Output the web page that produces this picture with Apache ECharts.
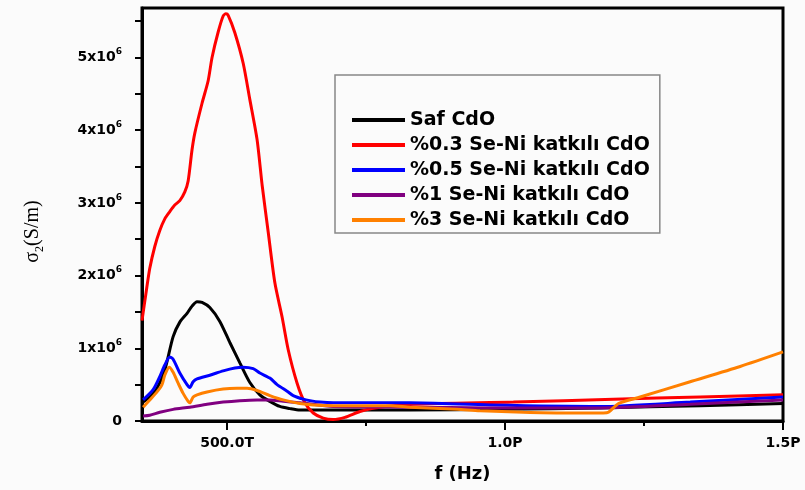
<!DOCTYPE html>
<html>
<head>
<meta charset="utf-8">
<script src="https://cdn.jsdelivr.net/npm/echarts@6/dist/echarts.min.js"></script>
<style>
  html, body { margin: 0; padding: 0; background: #fbfbfb; }
  #chart { width: 805px; height: 490px; }
</style>
</head>
<body>
<div id="chart"></div>
<script>
// Frequency in THz, conductivity sigma_2 in units of 10^6 S/m
const seriesNames = ['Saf CdO', '%0.3 Se-Ni katkılı CdO', '%0.5 Se-Ni katkılı CdO', '%1 Se-Ni katkılı CdO', '%3 Se-Ni katkılı CdO'];
const seriesColors = ['#000000', '#ff0000', '#0000ff', '#800080', '#ff8000'];

const freqSaf = [349,361,374,388,403,415,428,437,446,455,469,487,505,523,541,559,577,595,613,631,685,829,991,1171,1351,1500];
const sigmaSaf = [0.26,0.33,0.45,0.70,1.16,1.36,1.48,1.58,1.64,1.63,1.56,1.37,1.08,0.80,0.53,0.36,0.27,0.20,0.17,0.15,0.15,0.15,0.16,0.18,0.21,0.24];

const freq03 = [347,354,361,370,379,388,397,406,415,424,430,437,442,455,466,473,484,493,498,502,514,529,541,554,563,574,586,599,610,626,640,655,673,691,712,739,766,835,1015,1195,1351,1500];
const sigma03 = [1.38,1.75,2.1,2.4,2.62,2.78,2.88,2.97,3.03,3.15,3.3,3.73,3.96,4.37,4.68,5.0,5.35,5.57,5.60,5.58,5.34,4.92,4.42,3.87,3.25,2.6,1.9,1.43,0.98,0.52,0.25,0.11,0.04,0.02,0.05,0.13,0.18,0.23,0.26,0.30,0.33,0.36];

const freq05 = [349,367,379,388,397,403,415,428,433,439,446,469,493,514,529,547,559,577,590,608,619,637,649,667,691,716,829,973,1171,1333,1500];
const sigma05 = [0.29,0.43,0.61,0.77,0.88,0.85,0.66,0.50,0.46,0.54,0.58,0.63,0.69,0.73,0.74,0.72,0.66,0.59,0.50,0.41,0.35,0.30,0.28,0.26,0.25,0.25,0.25,0.22,0.20,0.26,0.33];

const freq1 = [349,361,379,403,433,464,493,523,554,577,601,631,691,829,973,1171,1333,1500];
const sigma1 = [0.07,0.08,0.12,0.16,0.19,0.23,0.26,0.28,0.29,0.29,0.27,0.25,0.20,0.19,0.18,0.18,0.23,0.29];

const freq3 = [349,361,374,383,388,396,403,412,421,430,433,439,446,464,493,518,536,554,577,601,631,655,691,721,793,829,914,955,1033,1105,1177,1186,1204,1243,1333,1423,1500];
const sigma3 = [0.19,0.29,0.40,0.50,0.63,0.74,0.67,0.52,0.38,0.27,0.25,0.33,0.36,0.40,0.44,0.45,0.45,0.42,0.35,0.29,0.24,0.22,0.21,0.21,0.21,0.19,0.16,0.14,0.12,0.11,0.11,0.12,0.24,0.33,0.54,0.75,0.95];

const xMajorTicks = [500, 1000, 1500];
const xMinorTicks = [750, 1250];
const yLabelValues = [0, 1, 2, 3, 4, 5];
const yTickValues = [0, 0.5, 1, 1.5, 2, 2.5, 3, 3.5, 4, 4.5, 5, 5.5];

const freqSets = [freqSaf, freq03, freq05, freq1, freq3];
const sigmaSets = [sigmaSaf, sigma03, sigma05, sigma1, sigma3];

const zip = (xs, ys) => xs.map((x, i) => [x, ys[i]]);

const xMin = 347, xMax = 1500, yMin = 0, yMax = 5.68;
const boldFont = 'DejaVu Sans';

const chart = echarts.init(document.getElementById('chart'), null, { renderer: 'canvas' });

chart.setOption({
  backgroundColor: '#fbfbfb',
  animation: false,
  grid: {
    left: 142, right: 22, top: 8, bottom: 69,
    show: true, borderColor: '#000', borderWidth: 3, backgroundColor: 'transparent'
  },
  legend: {
    orient: 'vertical',
    left: 335, top: 75,
    padding: [35, 10, 3, 17],
    borderColor: '#888', borderWidth: 1.5,
    icon: 'rect', itemWidth: 53, itemHeight: 4, itemGap: 5,
    textStyle: { fontFamily: boldFont, fontWeight: 'bold', fontSize: 19, lineHeight: 20, color: '#000' },
    data: seriesNames
  },
  xAxis: [{
    type: 'value', min: xMin, max: xMax,
    name: 'f (Hz)', nameLocation: 'middle', nameGap: 44,
    nameTextStyle: { fontFamily: boldFont, fontWeight: 'bold', fontSize: 18, color: '#000' },
    axisLine: { show: true, lineStyle: { color: '#000', width: 3 } },
    axisTick: { show: true, customValues: xMajorTicks, length: 9, lineStyle: { color: '#000', width: 2 } },
    axisLabel: {
      customValues: xMajorTicks, margin: 15,
      fontFamily: boldFont, fontWeight: 'bold', fontSize: 14, color: '#000',
      formatter: v => v < 1000 ? v.toFixed(1) + 'T' : (v / 1000).toFixed(1) + 'P'
    },
    splitLine: { show: false }
  }, {
    type: 'value', min: xMin, max: xMax, position: 'bottom', gridIndex: 0,
    axisLine: { show: false },
    axisTick: { show: true, customValues: xMinorTicks, length: 5, lineStyle: { color: '#000', width: 2 } },
    axisLabel: { show: false },
    splitLine: { show: false }
  }],
  yAxis: {
    type: 'value', min: yMin, max: yMax,
    name: '{s|σ}{sub|2}{s|(S/m)}', nameLocation: 'middle', nameRotate: 90, nameGap: 96,
    nameTextStyle: {
      fontFamily: 'Liberation Serif', fontSize: 20, color: '#000',
      padding: [0, 34, 0, 0],
      rich: {
        s: { fontFamily: 'Liberation Serif', fontSize: 20, lineHeight: 26, color: '#000' },
        sub: { fontFamily: 'Liberation Serif', fontSize: 12, lineHeight: 12, verticalAlign: 'bottom', color: '#000' }
      }
    },
    axisLine: { show: true, lineStyle: { color: '#000', width: 3 } },
    axisTick: { show: true, customValues: yTickValues, length: 7, lineStyle: { color: '#000', width: 2 } },
    axisLabel: {
      customValues: yLabelValues, margin: 20,
      formatter: v => v === 0 ? '{b|0}' : '{b|' + v + 'x10}{sup|6}',
      rich: {
        b: { fontFamily: boldFont, fontWeight: 'bold', fontSize: 14, lineHeight: 20, color: '#000' },
        sup: { fontFamily: boldFont, fontWeight: 'bold', fontSize: 9, lineHeight: 10, verticalAlign: 'top', color: '#000' }
      }
    },
    splitLine: { show: false }
  },
  series: seriesNames.map((name, i) => ({
    name: name,
    type: 'line',
    xAxisIndex: 0,
    showSymbol: false,
    symbol: 'none',
    smooth: 0.25,
    color: seriesColors[i],
    lineStyle: { width: 3, color: seriesColors[i] },
    data: zip(freqSets[i], sigmaSets[i]),
    z: 2 + i
  }))
});
</script>
</body>
</html>
